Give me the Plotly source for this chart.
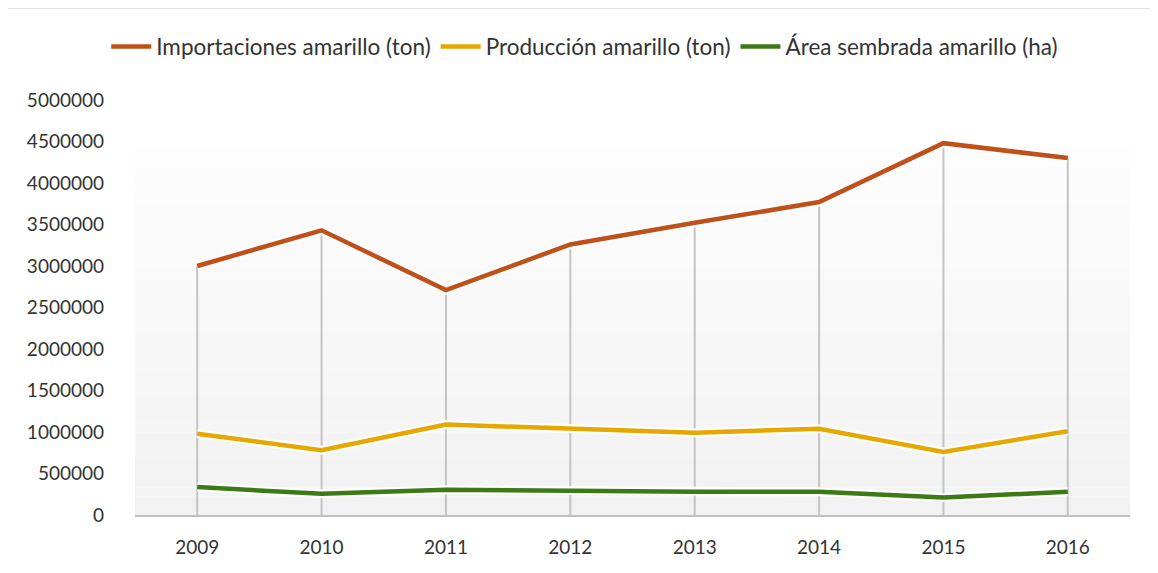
import plotly.graph_objects as go

years = ["2009", "2010", "2011", "2012", "2013", "2014", "2015", "2016"]
importaciones = [3000000, 3430000, 2710000, 3260000, 3520000, 3770000, 4480000, 4300000]
produccion = [980000, 780000, 1090000, 1040000, 990000, 1040000, 760000, 1010000]
area = [337000, 255000, 305000, 292000, 280000, 280000, 210000, 280000]

names = ["Importaciones amarillo (ton)", "Producción amarillo (ton)", "Área sembrada amarillo (ha)"]
colors = ["#C0501A", "#E6A800", "#3B7A14"]
series = [importaciones, produccion, area]

FONT = "Lato"
TXT = "#333333"

fig = go.Figure()

# drop lines from axis to highest series at each category
top_vals = [max(v) for v in zip(*series)]
dx, dy = [], []
for yr, tv in zip(years, top_vals):
    dx += [yr, yr, None]
    dy += [0, tv, None]
fig.add_trace(go.Scatter(x=dx, y=dy, mode="lines", line=dict(color="#c4c4c4", width=2),
                         hoverinfo="skip", showlegend=False))

# soft white glow under lines
for vals in series:
    fig.add_trace(go.Scatter(x=years, y=vals, mode="lines",
                             line=dict(color="rgba(255,255,255,0.9)", width=9),
                             hoverinfo="skip", showlegend=False))

for nm, vals, c in zip(names, series, colors):
    fig.add_trace(go.Scatter(x=years, y=vals, mode="lines", name=nm,
                             line=dict(color=c, width=4.5)))

# gradient background of plot area (style shapes)
shapes = []
N = 40
top = 0.884
for i in range(N):
    y0 = top * i / N
    y1 = top * (i + 1) / N
    t = i / (N - 1)
    g = int(round(242 + (253 - 242) * t))
    shapes.append(dict(type="rect", xref="paper", yref="paper", x0=0, x1=1, y0=y0, y1=y1,
                       fillcolor=f"rgb({g},{g},{g})", line=dict(width=0), layer="below"))
# chart border
shapes.append(dict(type="rect", xref="paper", yref="paper", x0=-0.1296, x1=1.026,
                   y0=-0.15, y1=1.2217, line=dict(color="#d9d9d9", width=1.5),
                   fillcolor="rgba(0,0,0,0)", layer="above"))

fig.update_layout(
    width=1150, height=565,
    margin=dict(l=127, r=28, t=92, b=58),
    paper_bgcolor="white", plot_bgcolor="white",
    font=dict(family=FONT, size=19, color=TXT),
    shapes=shapes,
    legend=dict(orientation="h", x=0.452, xanchor="center", y=1.128, yanchor="middle",
                font=dict(family=FONT, size=22.5, color=TXT), itemwidth=40,
                bgcolor="rgba(0,0,0,0)", tracegroupgap=0),
    xaxis=dict(type="category", range=[-0.5, 7.5], showgrid=False, showline=True,
               linecolor="#bfbfbf", linewidth=2, ticks="", ticklabelstandoff=14,
               tickfont=dict(family=FONT, size=19, color=TXT), zeroline=False),
    yaxis=dict(range=[0, 5000000], tickvals=[i * 500000 for i in range(11)],
               ticktext=[str(i * 500000) for i in range(11)],
               showgrid=False, showline=False, zeroline=False, ticks="",
               ticklabelstandoff=30,
               tickfont=dict(family=FONT, size=19, color=TXT)),
    hovermode="x",
)

fig.write_html("out.html")
